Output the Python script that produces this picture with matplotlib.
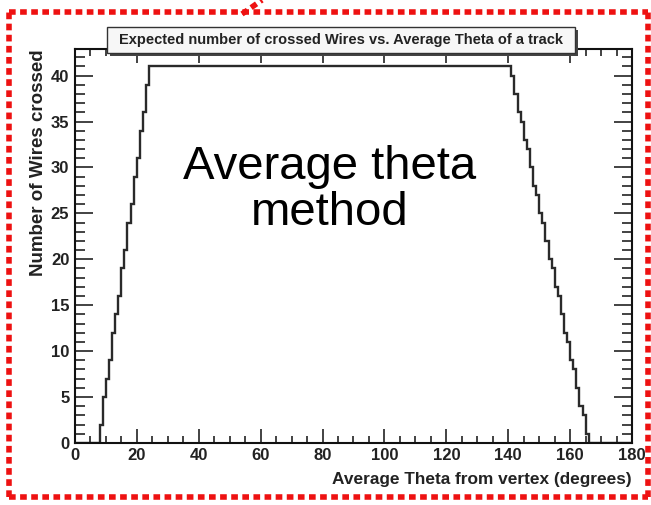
import numpy as np
import matplotlib
matplotlib.use("Agg")
import matplotlib.pyplot as plt
from matplotlib.ticker import MultipleLocator
from matplotlib.patches import Rectangle
from matplotlib.lines import Line2D

# Expected wires crossed per 1-degree bin of average theta
rise_start = 8
rise_values = [2, 5, 7, 9, 12, 14, 16, 19, 21, 24, 26, 29, 31, 34, 36, 39]
plateau_value = 41
plateau_end = 141
fall_values = [40, 38, 36, 35, 33, 32, 30, 28, 27, 25, 24, 22, 20, 19, 17,
               16, 14, 12, 11, 9, 8, 6, 4, 3, 1]

title = "Expected number of crossed Wires vs. Average Theta of a track"
xlabel = "Average Theta from vertex (degrees)"
ylabel = "Number of Wires crossed"
note = "Average theta\nmethod"

edges = np.arange(0, 181)
counts = np.zeros(180)
counts[rise_start:rise_start + len(rise_values)] = rise_values
counts[rise_start + len(rise_values):plateau_end] = plateau_value
counts[plateau_end:plateau_end + len(fall_values)] = fall_values

tick_font = ["Liberation Sans Narrow", "Liberation Sans", "DejaVu Sans"]
plt.rcParams["font.family"] = tick_font

fig = plt.figure(figsize=(6.51, 5.05), dpi=100)
ax = fig.add_axes([0.115, 0.123, 0.856, 0.780])

ax.stairs(counts, edges, color="#2a2a2a", linewidth=1.7)

ax.set_xlim(0, 180)
ax.set_ylim(0, 42.9)
ax.xaxis.set_major_locator(MultipleLocator(20))
ax.xaxis.set_minor_locator(MultipleLocator(5))
ax.yaxis.set_major_locator(MultipleLocator(5))
ax.yaxis.set_minor_locator(MultipleLocator(1))
ax.tick_params(which="both", direction="in", top=True, right=True,
               width=1.2, colors="#222222", labelcolor="#222222")
ax.tick_params(which="major", length=10, labelsize=12, pad=4)
ax.tick_params(which="minor", length=5)
ax.tick_params(axis="y", which="major", length=13)
ax.tick_params(axis="y", which="minor", length=7)
for lab in ax.get_xticklabels() + ax.get_yticklabels():
    lab.set_fontweight("bold")
for s in ax.spines.values():
    s.set_linewidth(1.5)
    s.set_color("#111111")

ax.set_xlabel(xlabel, fontsize=12.4, fontweight="bold", color="#222222",
              loc="right", labelpad=6)
ax.set_ylabel(ylabel, fontsize=13.5, fontweight="bold", color="#222222",
              loc="top", labelpad=3)

# Title box with drop shadow
bx0, by0, bw, bh = 107 / 651, 1 - 53 / 505, 468 / 651, 26 / 505
fig.patches.append(Rectangle((bx0 + 3 / 651, by0 - 3 / 505), bw, bh,
                             transform=fig.transFigure, facecolor="#444444",
                             edgecolor="none", zorder=5))
fig.patches.append(Rectangle((bx0, by0), bw, bh, transform=fig.transFigure,
                             facecolor="#f7f7f7", edgecolor="#333333",
                             linewidth=1.0, zorder=6))
fig.text(bx0 + bw / 2, by0 + bh / 2, title, ha="center", va="center",
         fontsize=10.5, fontweight="bold", color="#222222", zorder=7)

# Large annotation
fig.text(330 / 651, 1 - 190 / 505, note, ha="center", va="center",
         fontsize=34, family=["Liberation Sans", "DejaVu Sans"],
         color="black", linespacing=1.05)

# Red dashed frame
red = "#ee1111"
frame_kw = dict(color=red, linewidth=4, linestyle=(0, (1.2, 0.8)),
                transform=fig.transFigure, solid_capstyle="butt")
L, R, T, B = 9 / 651, 648 / 651, 1 - 12 / 505, 1 - 497 / 505
fig.lines.append(Line2D([L, R], [T, T], **frame_kw))
fig.lines.append(Line2D([L, R], [B, B], **frame_kw))
fig.lines.append(Line2D([L, L], [B, T], **frame_kw))
fig.lines.append(Line2D([R, R], [B, T], **frame_kw))
fig.lines.append(Line2D([242 / 651, 262 / 651], [1 - 14 / 505, 1 - 0 / 505],
                        **frame_kw))

fig.savefig("out.png", dpi=100)
